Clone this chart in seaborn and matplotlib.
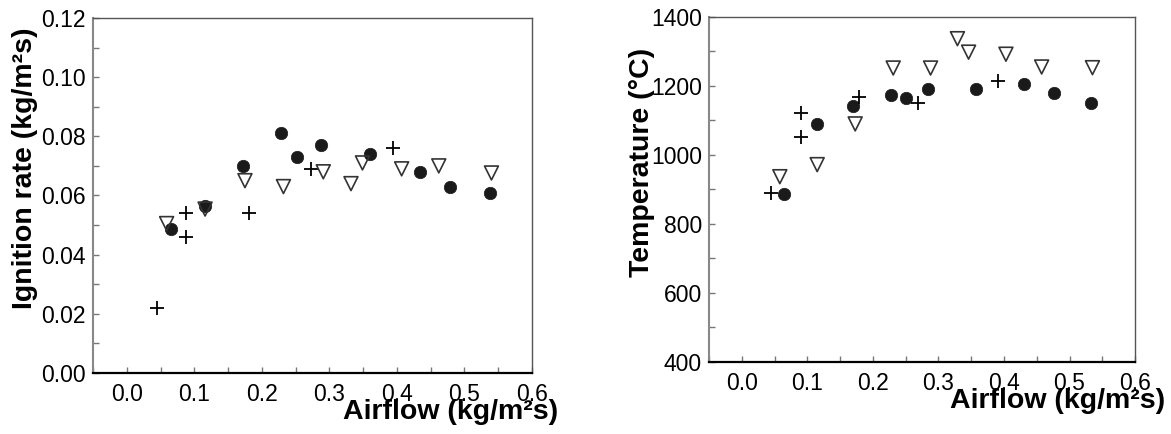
import matplotlib
matplotlib.use("Agg")
import matplotlib.pyplot as plt
import seaborn as sns
import pandas as pd
from matplotlib.ticker import MultipleLocator, FormatStrFormatter

sns.set_theme(style="white")
plt.rcParams['font.family'] = ['Liberation Sans', 'DejaVu Sans']

# ---- Ignition rate data ----
ign_circle_x = [0.066, 0.116, 0.172, 0.229, 0.2525, 0.287, 0.360, 0.434, 0.479, 0.538]
ign_circle_y = [0.0485, 0.0563, 0.070, 0.081, 0.073, 0.077, 0.074, 0.068, 0.063, 0.061]
ign_tri_x = [0.059, 0.116, 0.175, 0.232, 0.291, 0.332, 0.349, 0.407, 0.462, 0.540]
ign_tri_y = [0.0505, 0.0554, 0.065, 0.063, 0.068, 0.064, 0.071, 0.069, 0.070, 0.0676]
ign_plus_x = [0.045, 0.0876, 0.0876, 0.181, 0.273, 0.394]
ign_plus_y = [0.022, 0.054, 0.046, 0.054, 0.069, 0.076]

# ---- Temperature data ----
tmp_circle_x = [0.0644, 0.114, 0.170, 0.227, 0.250, 0.284, 0.357, 0.430, 0.476, 0.533]
tmp_circle_y = [888, 1091, 1141, 1173, 1165, 1191, 1191, 1206, 1181, 1150]
tmp_tri_x = [0.058, 0.115, 0.173, 0.231, 0.288, 0.329, 0.346, 0.403, 0.4575, 0.535]
tmp_tri_y = [937, 972, 1090, 1252, 1252, 1337, 1298, 1292, 1255, 1253]
tmp_plus_x = [0.044, 0.090, 0.090, 0.179, 0.269, 0.391]
tmp_plus_y = [890, 1122, 1052, 1167, 1152, 1213]

xticks = [0.0, 0.1, 0.2, 0.3, 0.4, 0.5, 0.6]
xlabel = "Airflow (kg/m²s)"
ylabels = ["Ignition rate (kg/m²s)", "Temperature (°C)"]

fig = plt.figure(figsize=(11.71, 4.34), dpi=100)
ax1 = fig.add_axes([0.0794, 0.1406, 0.3749, 0.818])
ax2 = fig.add_axes([0.6055, 0.1659, 0.3638, 0.795])

def draw(ax, cx, cy, tx, ty, px, py):
    sns.scatterplot(x=cx, y=cy, ax=ax, marker='o', s=80, color='#1a1a1a',
                    edgecolor='#1a1a1a', linewidth=0.5, zorder=3)
    sns.scatterplot(x=px, y=py, ax=ax, marker='+', s=100, color='black',
                    linewidth=1.3, zorder=4)
    sns.scatterplot(x=tx, y=ty, ax=ax, marker='v', s=100, facecolor='none',
                    edgecolor='#333333', linewidth=1.2, zorder=5)

draw(ax1, ign_circle_x, ign_circle_y, ign_tri_x, ign_tri_y, ign_plus_x, ign_plus_y)
draw(ax2, tmp_circle_x, tmp_circle_y, tmp_tri_x, tmp_tri_y, tmp_plus_x, tmp_plus_y)

ax1.set_ylim(0, 0.12)
ax1.yaxis.set_major_locator(MultipleLocator(0.02))
ax1.yaxis.set_minor_locator(MultipleLocator(0.01))
ax1.yaxis.set_major_formatter(FormatStrFormatter('%.2f'))
ax2.set_ylim(400, 1400)
ax2.yaxis.set_major_locator(MultipleLocator(200))
ax2.yaxis.set_minor_locator(MultipleLocator(100))

settings = [
    (ax1, ylabels[0], (-0.155, 0.577), (1.059, -0.130)),
    (ax2, ylabels[1], (-0.157, 0.577), (1.070, -0.134)),
]
for ax, yl, ylc, xlc in settings:
    ax.set_xlim(-0.05, 0.6)
    ax.set_xticks(xticks)
    ax.xaxis.set_minor_locator(MultipleLocator(0.05))
    ax.xaxis.set_major_formatter(FormatStrFormatter('%.1f'))
    ax.tick_params(axis='both', which='both', direction='in', length=4,
                   width=1, color='#777777', labelsize=16.5, labelcolor='black',
                   left=True, bottom=True)
    ax.tick_params(axis='x', which='major', pad=7)
    ax.tick_params(axis='y', which='major', pad=5)
    ax.spines['left'].set_color('#888888')
    ax.spines['left'].set_linewidth(1.5)
    ax.spines['bottom'].set_color('black')
    ax.spines['bottom'].set_linewidth(1.6)
    ax.spines['top'].set_color('#555555')
    ax.spines['top'].set_linewidth(1.0)
    ax.spines['right'].set_color('#555555')
    ax.spines['right'].set_linewidth(1.0)
    ax.set_ylabel(yl, fontsize=20.5, fontweight='bold', color='black',
                  va='center')
    ax.yaxis.set_label_coords(ylc[0], ylc[1])
    ax.set_xlabel(xlabel, fontsize=20.5, fontweight='bold', color='black',
                  ha='right', va='baseline')
    ax.xaxis.set_label_coords(xlc[0], xlc[1])
    ax.grid(False)

fig.savefig("out.png", dpi=100, facecolor='white')
